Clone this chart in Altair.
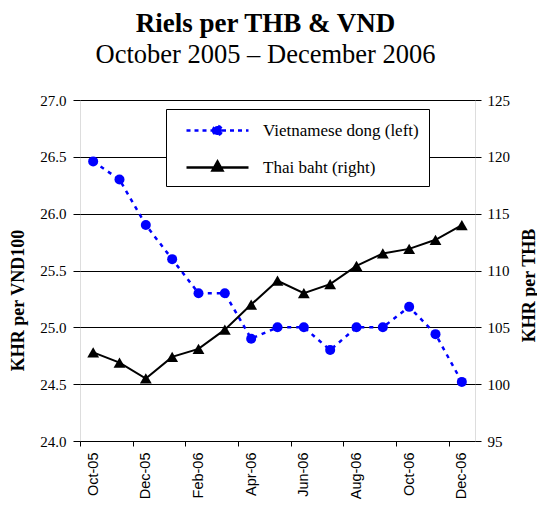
import altair as alt
import pandas as pd

months = ["Oct-05", "Nov-05", "Dec-05", "Jan-06", "Feb-06", "Mar-06", "Apr-06",
          "May-06", "Jun-06", "Jul-06", "Aug-06", "Sep-06", "Oct-06", "Nov-06", "Dec-06"]
vnd = [26.46, 26.30, 25.90, 25.60, 25.30, 25.30, 24.90, 25.00, 25.00, 24.80,
       25.00, 25.00, 25.18, 24.94, 24.52]
thb = [102.8, 101.9, 100.5, 102.4, 103.1, 104.8, 107.0, 109.1, 108.0, 108.8,
       110.4, 111.5, 111.9, 112.7, 114.0]
series = ["Vietnamese dong (left)", "Thai baht (right)"]
left_ticks = [24.0, 24.5, 25.0, 25.5, 26.0, 26.5, 27.0]
right_ticks = [95, 100, 105, 110, 115, 120, 125]

df = pd.DataFrame({"month": months, "vnd": vnd, "thb": thb})
leg_df = pd.DataFrame({"month": [months[0], months[0]], "series": series})

W, H = 395, 341
step = W / len(months)
SERIF = "Liberation Serif"
SANS = "Liberation Sans"

x_enc = alt.X(
    "month:N", sort=months, bandPosition=0.5,
    scale=alt.Scale(type="band", paddingInner=0, paddingOuter=0),
    axis=alt.Axis(values=months[::2], title=None, labelAngle=270,
                  labelFont=SANS, labelFontSize=14.5, labelColor="black",
                  tickColor="black", tickSize=5, tickWidth=1,
                  tickOffset=-step / 2, labelOffset=step / 2,
                  labelPadding=6, domain=False, grid=False),
)

left_axis = alt.Axis(values=left_ticks, format=".1f", title="KHR per VND100",
                     titleFont=SERIF, titleFontSize=18, titleFontWeight="bold",
                     titleColor="black", titleAngle=270, titleX=-62, titleY=200,
                     titleAlign="center", titleBaseline="middle",
                     labelFont=SERIF, labelFontSize=15, labelColor="black",
                     tickColor="black", tickSize=7, labelPadding=7,
                     domain=False, grid=True, gridColor="black", gridWidth=1,
                     gridOpacity=1)
right_axis = alt.Axis(values=right_ticks, format="d", title="KHR per THB",
                      orient="right",
                      titleFont=SERIF, titleFontSize=18, titleFontWeight="bold",
                      titleColor="black", titleAngle=270, titleX=54, titleY=185,
                      titleAlign="center", titleBaseline="middle",
                      labelFont=SERIF, labelFontSize=15, labelColor="black",
                      tickColor="black", tickSize=6, labelPadding=6,
                      domain=False, grid=False)

y_left = alt.Y("vnd:Q", scale=alt.Scale(domain=[24, 27]), axis=left_axis)
y_right = alt.Y("thb:Q", scale=alt.Scale(domain=[95, 125]), axis=right_axis)

BLUE = "#0000ff"

vnd_line = alt.Chart(df).mark_line(color=BLUE, strokeWidth=2.5, strokeDash=[4, 5]).encode(
    x=x_enc, y=y_left)
vnd_pts = alt.Chart(df).mark_point(filled=True, color=BLUE, opacity=1, size=100,
                                   shape="circle").encode(x=x_enc, y=y_left)

# legend symbols (custom path: line segment + marker); helper marks lie outside the plot and are clipped
dong_sym = ("M-3.1,0H-0.45M0.45,0H3.1M-0.45,0A0.45,0.45 0 1,0 0.45,0"
            "A0.45,0.45 0 1,0 -0.45,0Z")
baht_sym = "M-3.1,0H3.1M0,-0.6L0.5,0.3L-0.5,0.3Z"
legend = alt.Legend(title=None, orient="none", legendX=86, legendY=9,
                    fillColor="white", strokeColor="black", padding=10,
                    rowPadding=16, symbolOffset=30, labelOffset=34,
                    symbolSize=400, symbolStrokeWidth=2.5,
                    labelFont=SERIF, labelFontSize=17, labelColor="black",
                    labelLimit=0)
leg_layer = alt.Chart(leg_df).mark_point(clip=True, opacity=1, filled=False).encode(
    x=x_enc,
    y=alt.datum(10.0),
    fill=alt.Fill("series:N", scale=alt.Scale(domain=series, range=[BLUE, "black"]),
                  legend=legend),
    stroke=alt.Stroke("series:N", scale=alt.Scale(domain=series, range=[BLUE, "black"]),
                      legend=legend),
    shape=alt.Shape("series:N", scale=alt.Scale(domain=series, range=[dong_sym, baht_sym]),
                    legend=legend),
    strokeDash=alt.StrokeDash("series:N",
                              scale=alt.Scale(domain=series, range=[[4, 4], [1, 0]]),
                              legend=legend),
)

thb_line = alt.Chart(df).mark_line(color="black", strokeWidth=2).encode(x=x_enc, y=y_right)
thb_pts = alt.Chart(df).mark_point(filled=True, color="black", opacity=1, size=140,
                                   shape="triangle-up").encode(x=x_enc, y=y_right)

left_layer = alt.layer(vnd_line, vnd_pts, leg_layer)
right_layer = alt.layer(thb_line, thb_pts)

chart = alt.layer(left_layer, right_layer).resolve_scale(y="independent").properties(
    width=W, height=H,
    title=alt.TitleParams(
        text="Riels per THB & VND",
        subtitle="October 2005 \u2013 December 2006",
        font=SERIF, fontSize=27, fontWeight="bold", color="black",
        subtitleFont=SERIF, subtitleFontSize=26.5, subtitleColor="black",
        subtitleFontWeight="normal", subtitlePadding=4,
        anchor="middle", offset=24, dx=-12,
    ),
    autosize=alt.AutoSizeParams(type="none"),
    padding={"left": 72, "top": 92, "right": 62, "bottom": 59},
).configure_view(stroke="black", strokeWidth=2).configure(background="white")

chart.save("out.html", embed_options={"renderer": "svg", "actions": False})
